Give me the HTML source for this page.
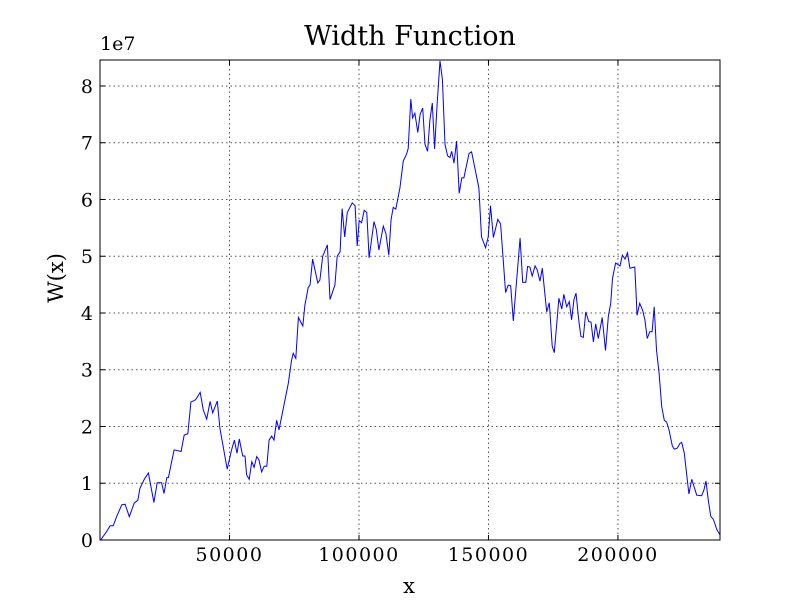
<!DOCTYPE html>
<html><head><meta charset="utf-8"><style>
body{margin:0;background:#fff;}
svg{display:block;font-family:"DejaVu Serif","Liberation Serif",serif;}
</style></head><body>
<svg id="chart" width="800" height="600">
<rect width="800" height="600" fill="#fff"/>
<text x="410" y="45" text-anchor="middle" font-size="27">Width Function</text>
<text x="100" y="50" font-size="19">1e7</text>
<text x="409" y="593" text-anchor="middle" font-size="21">x</text>
<text transform="translate(63,278) rotate(-90)" text-anchor="middle" font-size="21">W(x)</text>
<g id="grid"></g>
<g id="ticks"></g>
<polyline id="line" fill="none" stroke="#0000ff" stroke-width="1"/>
<rect x="100" y="60" width="620" height="480" fill="none" stroke="#000" stroke-width="1"/>
</svg>
<script>
const xTicks=[50000,100000,150000,200000];
const yTicks=[0,1,2,3,4,5,6,7,8];
const xsK=[0.4,2.6,3.9,5.1,6.4,8.4,9.7,11.3,13.2,14.6,15.4,17.1,18.7,20.8,22.1,23.8,24.7,25.8,26.4,28.6,31.3,32.5,33.9,35.1,36.9,38.7,39.9,41.2,42.5,43.5,45.3,46.3,49.1,50.8,51.9,52.9,53.8,55.1,56.0,56.6,57.6,58.6,59.5,60.5,61.4,62.4,63.4,64.4,65.3,66.3,67.2,68.2,69.1,72.7,74.0,
74.6,75.6,76.6,78.3,79.1,80.4,81.1,82.1,84.1,84.9,86.0,87.8,88.8,90.7,91.6,92.7,93.5,94.5,95.5,97.4,98.5,99.3,100.1,101.0,102.0,103.0,103.9,105.8,106.7,107.7,109.4,110.4,111.5,112.4,113.2,114.2,
115.8,117.1,118.4,119.0,120.0,120.7,121.6,122.7,123.6,124.6,125.5,126.5,127.4,128.3,129.2,130.2,131.3,132.2,133.2,134.2,135.1,135.8,136.7,137.7,138.7,139.7,140.5,142.5,143.5,146.3,147.3,148.9,149.9,150.8,151.9,153.6,154.7,156.6,157.6,158.6,159.6,162.2,163.2,164.4,165.1,166.0,166.9,168.0,168.8,169.9,170.8,172.5,173.5,174.6,175.4,177.2,178.3,179.1,180.2,181.2,182.1,183.0,183.8,184.9,185.7,186.6,187.6,188.7,189.6,190.5,191.4,192.4,193.9,195.2,196.3,197.2,197.9,199.1,200.8,201.7,202.7,203.7,204.6,206.5,207.4,208.4,209.5,210.4,211.3,212.3,213.2,214.0,214.9,215.9,216.9,217.9,218.8,219.7,221.0,221.7,222.9,223.9,224.6,225.6,227.4,228.5,229.4,230.4,232.3,233.2,234.0,234.9,235.8,236.9,238.2,239.4];
const ysE7=[0.01,0.15,0.25,0.25,0.41,0.62,0.63,0.41,0.65,0.70,0.91,1.07,1.18,0.66,1.01,1.01,0.82,1.10,1.10,1.59,1.56,1.85,1.87,2.43,2.47,2.60,2.29,2.13,2.44,2.24,2.45,1.97,1.25,1.59,1.76,1.53,1.78,1.48,1.48,1.15,1.07,1.38,1.28,1.47,1.41,1.20,1.30,1.30,1.76,1.83,1.76,2.11,1.94,2.76,3.17,
3.29,3.20,3.92,3.77,4.14,4.45,4.49,4.95,4.53,4.58,5.00,5.20,4.24,4.49,5.00,5.08,5.84,5.34,5.77,5.94,5.89,5.18,5.63,5.59,5.81,5.77,4.97,5.61,5.47,5.11,5.53,5.40,5.02,5.65,5.86,5.83,
6.20,6.68,6.80,6.90,7.77,7.44,7.52,7.18,7.50,7.61,6.97,6.85,7.40,7.70,6.89,7.70,8.44,8.12,6.97,6.77,6.74,6.85,6.64,7.03,6.11,6.38,6.38,6.81,6.84,6.20,5.34,5.15,5.34,5.89,5.33,5.65,5.57,4.36,4.49,4.48,3.86,5.32,4.54,4.54,4.82,4.81,4.65,4.83,4.76,4.56,4.79,4.02,4.18,3.42,3.30,4.26,4.07,4.33,4.11,4.20,3.88,4.23,4.35,3.85,3.59,3.57,4.02,3.85,3.84,3.49,3.81,3.55,3.92,3.34,3.95,4.17,4.61,4.88,4.83,5.02,4.95,5.06,4.79,4.81,3.96,4.17,4.05,3.88,3.55,3.67,3.67,4.11,3.35,2.94,2.35,2.11,2.08,1.94,1.66,1.60,1.62,1.70,1.72,1.53,0.81,1.07,0.94,0.79,0.78,0.88,1.04,0.70,0.42,0.36,0.18,0.09];
const X0=100,X1=720,Y0=540,Y1=60,XMAX=239400,YMAX=8.458;
const sx=v=>X0+v/XMAX*(X1-X0);
const sy=v=>Y0-v/YMAX*(Y0-Y1);
const NS='http://www.w3.org/2000/svg';
const grid=document.getElementById('grid'),ticks=document.getElementById('ticks');
function mk(tag,attrs,parent){const e=document.createElementNS(NS,tag);for(const k in attrs)e.setAttribute(k,attrs[k]);parent.appendChild(e);return e;}
xTicks.forEach(t=>{const x=sx(t);
 const g=mk('line',{x1:x,x2:x,y1:Y1,y2:Y0,stroke:'#555','stroke-dasharray':'1.5,3','stroke-width':1},grid);
 
 
 mk('line',{x1:x,x2:x,y1:Y0,y2:Y0-5,stroke:'#000'},ticks);
 mk('line',{x1:x,x2:x,y1:Y1,y2:Y1+5,stroke:'#000'},ticks);
 const l=mk('text',{x:x,y:Y0+21,'text-anchor':'middle','font-size':19,'letter-spacing':'1.5'},ticks);l.textContent=t;
 
 
});
yTicks.forEach(t=>{const y=sy(t);
 if(t>0){const g=mk('line',{x1:X0,x2:X1,y1:y,y2:y,stroke:'#555','stroke-dasharray':'1.5,3','stroke-width':1},grid);
 
 }
 mk('line',{x1:X0,x2:X0+5,y1:y,y2:y,stroke:'#000'},ticks);
 mk('line',{x1:X1,x2:X1-5,y1:y,y2:y,stroke:'#000'},ticks);
 const l=mk('text',{x:X0-7,y:y+7,'text-anchor':'end','font-size':19},ticks);l.textContent=t;
 
 
});
document.getElementById('line').setAttribute('points',xsK.map((x,i)=>sx(x*1000).toFixed(1)+','+sy(ysE7[i]).toFixed(1)).join(' '));
</script>
</body></html>
